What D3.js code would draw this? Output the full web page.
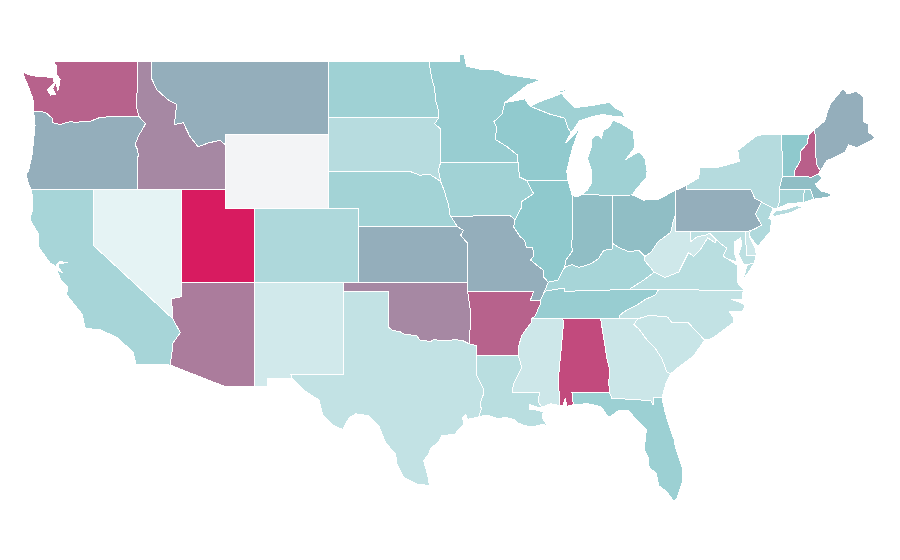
<!DOCTYPE html>
<html>
<head>
<meta charset="utf-8">
<script src="https://cdn.jsdelivr.net/npm/d3@7"></script>
<style>
  html, body { margin: 0; background: #fff; }
  svg { display: block; }
</style>
</head>
<body>
<svg id="map" width="900" height="560"></svg>
<script>
// values per state
const stateNames = ['WA','OR','CA','ID','NV','UT','AZ','MT','WY','CO','NM','ND','SD','NE','KS','OK','TX','MN','IA','MO','AR','LA','WI','IL','MI','IN','OH','KY','TN','MS','AL','GA','FL','SC','NC','VA','WV','PA','NY','VT','NH','ME','MA','CT','RI','NJ','DE','MD'];
const stateValues = [76,50,33,63,5,100,67,50,0,30,14,37,26,35,50,63,21,40,36,50,76,25,43,44,37,47,47,33,40,16,84,17,38,18,21,25,15,50,27,44,77,50,47,33,36,29,16,23];

const colorStops = [0,5,45,50,100];
const colorRange = ['#f3f4f6','#e5f3f4','#8dc8cc','#94aebb','#d81b60'];

// shared borders, lon/lat
const columbia = [[-116.92,46.0],[-118.98,46.0],[-119.3,45.93],[-119.6,45.92],[-120.2,45.73],[-120.65,45.74],[-121.2,45.65],[-121.55,45.72],[-122.25,45.55],[-122.75,45.65],[-122.8,45.9],[-123.15,46.15],[-123.5,46.27],[-124.05,46.27]];
const snake = [[-116.92,46.0],[-116.46,45.6],[-116.68,45.27],[-116.9,45.0],[-117.17,44.45],[-117.0,44.2],[-116.95,43.85],[-117.03,43.7],[-117.03,42]];
const idMt = [[-116.05,49],[-116.05,48.05],[-115.7,47.45],[-114.95,46.9],[-114.35,46.65],[-114.45,45.9],[-114.5,45.55],[-113.9,45.65],[-113.45,44.9],[-112.9,44.35],[-112.2,44.55],[-111.4,44.7],[-111.05,44.45]];
const colorado = [[-114.05,36.2],[-114.7,36.1],[-114.6,35]];
const coloradoLow = [[-114.6,35],[-114.1,34.25],[-114.6,33.7],[-114.7,32.95],[-114.8,32.5]];
const riverRed = [[-100,34.56],[-99.7,34.38],[-99.2,34.3],[-98.9,34.17],[-98.4,34.12],[-98.1,34.13],[-97.85,33.85],[-97.45,33.82],[-97.15,33.75],[-96.9,33.9],[-96.55,33.82],[-96.15,33.82],[-95.8,33.85],[-95.4,33.87],[-94.95,33.82],[-94.48,33.64],[-94.04,33.55]];
const sabine = [[-94.04,31.99],[-93.8,31.6],[-93.55,31.2],[-93.53,30.95],[-93.75,30.45],[-93.7,30.1],[-93.85,29.7]];
const missouriNE = [[-95.77,40.58],[-95.85,40.7],[-95.9,41.2],[-96.05,41.5],[-96.2,41.95],[-96.45,42.45]];
const missouriKS = [[-95.3,40],[-94.9,39.8],[-95.1,39.55],[-94.62,39.1]];
const neSd = [[-104.05,43],[-98.5,43],[-97.85,42.8],[-97.2,42.85],[-96.7,42.6],[-96.45,42.45]];
const bigSioux = [[-96.45,42.45],[-96.6,43.1],[-96.45,43.5]];
const mnSd = [[-96.45,43.5],[-96.45,45.3],[-96.85,45.6],[-96.56,45.94]];
const redNorth = [[-96.56,45.94],[-96.6,46.3],[-96.8,46.9],[-96.85,47.5],[-97.0,47.9],[-97.15,48.5],[-97.23,49]];
const mnWi = [[-92.1,46.75],[-92.3,46.1],[-92.85,45.7],[-92.65,45.4],[-92.75,44.75],[-91.95,44.35],[-91.25,43.9],[-91.2,43.5]];
const upperIA = [[-91.2,43.5],[-91.1,42.7],[-90.6,42.5]];
const lowerIA = [[-90.6,42.5],[-90.15,41.8],[-91,41.35],[-91,41],[-91.42,40.38]];
const riverMO = [[-91.42,40.38],[-91.5,40.0],[-91.1,39.5],[-90.75,39.25],[-90.65,38.9],[-90.2,38.85],[-90.15,38.4],[-90.35,38.2],[-89.9,37.9],[-89.5,37.65],[-89.5,37.3],[-89.15,37]];
const moKy = [[-89.15,37],[-89.4,36.5]];
const moTn = [[-89.4,36.5],[-89.7,36]];
const bootheel = [[-89.7,36],[-90.37,36],[-90.15,36.5]];
const arTn = [[-89.7,36],[-89.7,35.8],[-90.05,35.15],[-90.3,35]];
const arMs = [[-90.3,35],[-90.3,34.8],[-90.6,34.5],[-90.95,34.1],[-91.15,33.55],[-91.17,33]];
const laMs = [[-91.17,33],[-90.95,32.35],[-91.5,31.5],[-91.6,31],[-89.73,31],[-89.85,30.55],[-89.6,30.2]];
const wabash = [[-87.53,39.35],[-87.6,39.1],[-87.5,38.7],[-87.95,38.2],[-88.05,37.8]];
const ohioIL = [[-89.15,37],[-88.5,37.1],[-88.05,37.8]];
const ohioIN = [[-88.05,37.8],[-87.55,37.95],[-87.1,37.8],[-86.6,37.9],[-86.25,38.0],[-85.75,38.27],[-85.4,38.72],[-84.8,38.8],[-84.8,39.1]];
const ohioOH = [[-84.8,39.1],[-84.3,38.85],[-83.7,38.65],[-83.0,38.72],[-82.6,38.4]];
const ohioWV = [[-82.6,38.4],[-82.2,38.6],[-81.7,39.2],[-80.85,39.7],[-80.65,40.4],[-80.52,40.64]];
const tug = [[-82.6,38.4],[-82.6,38.15],[-81.97,37.54]];
const kyVa = [[-81.97,37.54],[-82.7,37.1],[-83.68,36.6]];
const tnVa = [[-81.68,36.59],[-83.68,36.6]];
const tnKy = [[-83.68,36.6],[-88.05,36.5],[-88.07,36.68],[-89.4,36.5]];
const tnNc = [[-81.68,36.59],[-81.9,36.3],[-82.6,36.05],[-83.1,35.77],[-84.0,35.4],[-84.3,35.2],[-84.32,35]];
const savannah = [[-83.1,35],[-83.35,34.7],[-83.0,34.45],[-82.55,33.95],[-81.9,33.4],[-81.45,32.85],[-81.1,32.1],[-80.85,32.03]];
const scNc = [[-83.1,35],[-82.3,35.2],[-81.05,35.1],[-80.8,34.82],[-79.67,34.8],[-78.55,33.85]];
const alGa = [[-85.6,35],[-85.18,32.87],[-85.0,32.3],[-85.05,31.5],[-85,31]];
const alMs = [[-88.2,35],[-88.1,34.9],[-88.45,31.9],[-88.4,30.3]];
const gaFl = [[-85,31],[-84.85,30.7],[-82.2,30.57],[-82.05,30.36],[-82.0,30.75],[-81.45,30.72]];
const delaware = [[-75.4,42],[-75.15,41.55],[-74.7,41.35]];
const delawareNJ = [[-74.7,41.35],[-75.1,40.7],[-74.7,40.1],[-75.1,39.9],[-75.45,39.8]];
const wvVa = [[-77.75,39.3],[-77.85,39.15],[-78.35,39.4],[-78.85,38.75],[-79.3,38.4],[-79.65,38.6],[-80.3,37.55],[-81.25,37.25],[-81.97,37.54]];
const potomacWV = [[-79.48,39.72],[-79.48,39.2],[-79.05,39.47],[-78.45,39.55],[-78.2,39.65],[-77.75,39.3]];
const potomacVA = [[-77.75,39.3],[-77.5,39.1],[-77.05,38.85],[-77.3,38.4],[-76.95,38.25]];
const vtNh = [[-71.5,45],[-71.6,44.5],[-72.05,44.1],[-72.05,43.6],[-72.45,43.05],[-72.46,42.73]];

const rev = a => a.slice().reverse();
const ring = (...parts) => parts.flat();

const stateRings = {
  WA: [ring([[-122.76,49],[-117.03,49],[-117.04,46.42]], columbia, [[-124.05,46.7],[-124.1,46.95],[-124.4,47.6],[-124.7,48.17],[-124.73,48.38],[-124.2,48.2],[-123.1,48.13],[-122.75,48.13],[-122.65,47.8],[-123.1,47.42],[-122.9,47.15],[-122.55,47.2],[-122.75,47.5],[-122.55,47.85],[-122.4,47.4],[-122.3,47.75],[-122.25,48.0],[-122.5,48.3],[-122.5,48.75]])],
  OR: [ring(rev(columbia).slice(0,-1), [[-116.92,46.0]], snake, [[-120,42],[-124.2,42],[-124.4,42.3],[-124.55,42.85],[-124.4,43.0],[-124.15,43.9],[-124.05,44.7],[-123.95,45.5]])],
  CA: [ring([[-124.2,42],[-120,42],[-120,39]], coloradoLow, [[-117.1,32.55],[-117.3,33.2],[-118.4,34.0],[-119.5,34.4],[-120.55,34.5],[-120.75,35.25],[-121.8,36.3],[-121.75,36.75],[-122.2,37.13],[-122.5,37.7],[-122.1,37.5],[-122.4,37.85],[-122.3,38.02],[-121.75,38.05],[-122.3,38.13],[-122.55,37.85],[-122.95,38.05],[-123.7,38.9],[-123.75,39.65],[-124.3,40.4],[-124.1,41.0],[-124.1,41.5]]),
       [[-119.95,34.05],[-119.55,34.05],[-119.6,33.97],[-119.9,33.97]]],
  ID: [ring(idMt, [[-111.05,42]], rev(snake), [[-117.04,46.42],[-117.03,49]])],
  NV: [ring([[-120,42],[-114.05,42]], colorado, [[-120,39]])],
  UT: [[[-114.05,42],[-111.05,42],[-111.05,41],[-109.05,41],[-109.05,37],[-114.05,37]]],
  AZ: [ring([[-114.05,37],[-109.05,37],[-109.05,31.33],[-111.07,31.33]], rev(coloradoLow), rev(colorado))],
  MT: [ring([[-116.05,49],[-104.05,49],[-104.05,45],[-111.05,45]], rev(idMt))],
  WY: [[[-111.05,45],[-109.5,45.03],[-108,45],[-106.5,45.02],[-104.05,45],[-104.05,41],[-106,41.02],[-108,41],[-109.5,41.02],[-111.05,41]]],
  CO: [[[-109.05,41],[-102.05,41],[-102.05,37],[-109.05,37]]],
  NM: [[[-109.05,37],[-103,37],[-103.04,32],[-106.62,32],[-106.53,31.78],[-108.2,31.78],[-108.2,31.33],[-109.05,31.33]]],
  ND: [ring([[-104.05,49]], rev(redNorth), [[-104.05,45.95]])],
  SD: [ring([[-104.05,45.95],[-96.56,45.94]], rev(mnSd), rev(bigSioux), rev(neSd), [[-104.05,45]])],
  NE: [ring(neSd, rev(missouriNE), [[-95.3,40],[-102.05,40],[-102.05,41],[-104.05,41]])],
  KS: [ring([[-102.05,40]], missouriKS, [[-94.62,37],[-102.05,37]])],
  OK: [ring([[-103,37],[-94.62,37],[-94.43,35.4],[-94.48,33.64]], rev(riverRed.slice(0,-1)), [[-100,36.5],[-103.04,36.5]])],
  TX: [ring([[-103.04,36.5],[-100,36.5]], riverRed, [[-94.04,33.02]], sabine, [[-93.3,29.78],[-94.63,29.55],[-94.75,29.8],[-94.96,29.65],[-94.87,29.27],[-95.5,28.75],[-96.4,28.65],[-96.6,28.3],[-97.1,28.0],[-97.25,27.7],[-97.6,27.3],[-97.35,26.6],[-97.2,25.95],[-98.1,26.05],[-98.95,26.4],[-99.4,27.1],[-99.5,27.65],[-100.2,28.3],[-100.65,29.2],[-101.35,29.75],[-102.2,29.85],[-102.65,29.65],[-103.1,29.0],[-103.8,29.25],[-104.45,29.8],[-104.7,30.6],[-105.75,31.15],[-106.53,31.78],[-106.62,32],[-103.04,32]])],
  MN: [ring([[-97.23,49],[-95.15,49],[-95.15,49.36],[-94.85,49.33],[-94.7,48.72],[-93.75,48.55],[-92.6,48.5],[-92.2,48.3],[-91,48.15],[-89.65,47.98],[-90.55,47.7],[-92.1,46.75]], mnWi, [[-96.45,43.5]], mnSd, redNorth)],
  IA: [ring([[-96.45,43.5],[-91.2,43.5]], upperIA, lowerIA, [[-91.72,40.6]], missouriNE, bigSioux)],
  MO: [ring([[-95.77,40.58],[-91.72,40.6]], riverMO, moKy, moTn, bootheel, [[-94.62,36.5],[-94.62,37]], rev(missouriKS), [[-95.77,40.58]])],
  AR: [ring([[-94.62,36.5]], rev(bootheel), arTn, arMs, [[-94.04,33.02],[-94.04,33.55],[-94.48,33.64],[-94.43,35.4]])],
  LA: [ring([[-94.04,33.02]], laMs, [[-89.85,30.2],[-90.4,30.35],[-90.45,30.1],[-89.85,30.05],[-89.5,29.95],[-89.55,29.6],[-89.1,29.1],[-89.45,29.3],[-90.15,29.15],[-90.7,29.2],[-91.2,29.35],[-91.5,29.55],[-92.0,29.65],[-92.6,29.6],[-93.3,29.78]], rev(sabine))],
  WI: [ring([[-92.1,46.75],[-91.2,46.87],[-90.75,46.95],[-90.4,46.55],[-89.1,46.13],[-88.05,45.9],[-87.8,45.35],[-87.6,45.1],[-88.0,44.55],[-87.4,45.0],[-87.0,45.4],[-87.5,44.3],[-87.7,43.7],[-87.9,43.0],[-87.8,42.5],[-90.6,42.5]], rev(upperIA), rev(mnWi))],
  IL: [ring([[-90.6,42.5],[-87.8,42.5],[-87.55,41.75],[-87.53,41.7]], wabash, rev(ohioIL), rev(riverMO), rev(lowerIA))],
  MI: [[[-90.4,46.55],[-89.1,46.13],[-88.05,45.9],[-87.8,45.35],[-87.6,45.1],[-87.05,45.75],[-86.3,45.95],[-85.5,46.1],[-84.75,46.0],[-84.0,45.95],[-84.1,46.25],[-84.6,46.45],[-85.0,46.75],[-86.1,46.6],[-87.0,46.5],[-87.4,46.5],[-87.9,46.9],[-88.4,47.37],[-87.8,47.47],[-88.5,47.15],[-89.6,46.83]],
       [[-86.82,41.76],[-84.8,41.7],[-83.45,41.73],[-83.15,42.1],[-82.5,42.65],[-82.45,43.0],[-82.6,43.7],[-82.95,44.07],[-83.4,43.9],[-83.9,43.65],[-83.3,44.3],[-83.35,44.9],[-83.4,45.2],[-84.2,45.6],[-84.75,45.78],[-85.05,45.4],[-85.4,45.25],[-85.55,44.8],[-85.75,45.0],[-86.05,44.9],[-86.25,44.7],[-86.25,44.3],[-86.5,43.7],[-86.25,43.1],[-86.2,42.4],[-86.5,42.0]],
       [[-89.2,47.87],[-88.55,48.13],[-88.45,48.17],[-88.95,47.92]]],
  IN: [ring([[-87.53,41.7],[-87.2,41.62],[-86.82,41.76],[-84.8,41.7]], rev(ohioIN), rev(wabash))],
  OH: [ring([[-84.8,41.7],[-83.45,41.73],[-82.7,41.45],[-81.7,41.5],[-80.52,41.98]], rev(ohioWV), rev(ohioOH))],
  KY: [ring(ohioIL, ohioIN.slice(1), ohioOH.slice(1), tug.slice(1), kyVa.slice(1), tnKy.slice(1), [[-89.15,37]])],
  TN: [ring([[-90.3,35],[-84.32,35]], rev(tnNc), tnVa.slice(1), tnKy.slice(1), moTn.slice(1), arTn.slice(1))],
  MS: [ring([[-90.3,35],[-88.2,35]], alMs, [[-89.0,30.4]], rev(laMs), rev(arMs))],
  AL: [ring([[-88.2,35],[-85.6,35]], alGa, [[-87.55,31],[-87.45,30.35],[-87.9,30.25],[-88.0,30.7],[-88.15,30.3],[-88.4,30.3]], rev(alMs))],
  GA: [ring([[-85.6,35],[-83.1,35]], savannah.slice(1), [[-81.15,31.55]], rev(gaFl), rev(alGa))],
  FL: [ring([[-87.55,31]], gaFl, [[-81.25,30],[-81,29.3],[-80.6,28.4],[-80.55,28.1],[-80.05,26.9],[-80.05,26.2],[-80.4,25.3],[-80.65,25.12],[-81.1,25.6],[-81.65,25.95],[-81.85,26.65],[-82.3,26.9],[-82.4,27.55],[-82.65,27.9],[-82.5,29.0],[-83.3,29.65],[-83.75,30.05],[-84.35,30.05],[-85.05,29.65],[-85.6,30.25],[-86.5,30.4],[-87.45,30.35]])],
  SC: [ring(scNc, [[-79.3,33],[-79.95,32.6],[-80.45,32.3]], rev(savannah))],
  NC: [ring(tnNc.slice(0,1), [[-75.87,36.55],[-75.98,36.45],[-75.95,36.05],[-76.7,36.05],[-76.0,35.85],[-75.8,35.76],[-76.0,35.4],[-76.9,35.4],[-76.6,35.1],[-76.6,34.8],[-77.95,34.0],[-78.2,33.9]], rev(scNc), rev(tnNc).slice(0,-1))],
  VA: [ring(rev(tnVa), [[-75.87,36.55],[-76.3,36.95],[-76.3,37.5],[-76.3,37.9]], rev(potomacVA), wvVa.slice(1), kyVa.slice(1)),
       [[-75.95,37.15],[-75.65,37.95],[-75.2,38.03],[-75.6,37.5]]],
  WV: [ring(rev(ohioWV), tug.slice(1), rev(wvVa).slice(1), rev(potomacWV).slice(1), [[-80.52,39.72]])],
  PA: [ring([[-80.52,41.98],[-79.76,42.27],[-79.76,42],[-75.4,42]], delaware, delawareNJ.slice(1), [[-75.8,39.72],[-80.52,39.72]])],
  NY: [ring([[-79.76,42.27],[-78.95,42.65],[-78.9,43.2],[-77.5,43.25],[-76.2,43.55],[-76.3,44.15],[-75.1,44.9],[-74.7,45],[-73.35,45],[-73.35,44.5],[-73.25,43.6],[-73.27,42.75],[-73.5,42.05],[-73.5,41.3],[-73.65,41],[-73.9,41]], rev(delaware), [[-79.76,42]]),
       [[-74.03,40.6],[-73.75,40.58],[-72.8,40.75],[-71.9,41.07],[-72.3,41.15],[-73,40.95],[-73.75,40.85]]],
  VT: [ring([[-73.35,45]], vtNh, [[-73.27,42.75],[-73.25,43.6],[-73.35,44.5]])],
  NH: [ring(vtNh.slice(0,1), [[-71.08,45.3],[-70.98,43.4],[-70.7,43.05],[-70.82,42.87],[-71.3,42.7]], rev(vtNh).slice(0,-1))],
  ME: [[[-71.08,45.3],[-70.4,45.75],[-70.25,46.2],[-70,46.7],[-69.22,47.45],[-69.05,47.43],[-68.9,47.2],[-68.3,47.36],[-67.8,47.07],[-67.8,45.7],[-67.45,45.6],[-67.45,45.15],[-66.97,44.82],[-67.6,44.55],[-68.2,44.3],[-68.8,44.45],[-69.05,44.05],[-69.8,43.75],[-70.25,43.6],[-70.7,43.05],[-70.98,43.4]]],
  MA: [[[-73.5,42.05],[-73.27,42.75],[-72.46,42.73],[-71.3,42.7],[-70.82,42.87],[-70.6,42.65],[-71.05,42.3],[-70.65,41.95],[-70.05,41.8],[-70,41.65],[-70.65,41.55],[-71.15,41.5],[-71.38,42.02],[-71.8,42.02]]],
  CT: [[[-73.5,42.05],[-71.8,42.02],[-71.85,41.32],[-72.9,41.25],[-73.65,41],[-73.5,41.3]]],
  RI: [[[-71.8,42.02],[-71.38,42.02],[-71.15,41.5],[-71.85,41.32]]],
  NJ: [ring(rev(delawareNJ).slice(0,-1), [[-74.7,41.35],[-73.9,41],[-74.2,40.45],[-74,40.4],[-74.1,39.75],[-74.95,38.93],[-75.5,39.5],[-75.55,39.65]])],
  DE: [[[-75.8,39.72],[-75.45,39.8],[-75.55,39.5],[-75.1,38.8],[-75.05,38.45],[-75.7,38.46]]],
  MD: [ring(potomacWV.slice(0,1), [[-75.8,39.72],[-75.7,38.46],[-75.05,38.45],[-75.2,38.03],[-75.65,37.95],[-75.9,37.95],[-76.25,38.5],[-76.05,39],[-76.1,39.4],[-76.5,39.2],[-76.5,38.5],[-76.35,38.1],[-76.95,38.25]], rev(potomacVA).slice(1), rev(potomacWV).slice(1))]
};

const x = d3.scaleLinear().domain([-124.7, -67]).range([24, 875]);
const y = d3.scaleLinear().domain([49, 25.12]).range([61, 501]);
const color = d3.scaleLinear().domain(colorStops).range(colorRange);

// the map is plain lon/lat stretched onto the page, so the scales are the projection
const projection = d3.geoTransform({
  point: function(lon, lat) { this.stream.point(x(lon), y(lat)); }
});
const path = d3.geoPath(projection);

const features = stateNames.map((name, i) => ({
  type: 'Feature',
  properties: { name: name, value: stateValues[i] },
  geometry: { type: 'MultiPolygon', coordinates: stateRings[name].map(r => [r.concat([r[0]])]) }
}));

d3.select('#map').selectAll('path')
  .data(features)
  .join('path')
  .attr('d', path)
  .attr('fill', d => color(d.properties.value))
  .attr('stroke', '#fff')
  .attr('stroke-width', 1)
  .attr('stroke-linejoin', 'round')
  .attr('shape-rendering', 'crispEdges');
</script>
</body>
</html>
